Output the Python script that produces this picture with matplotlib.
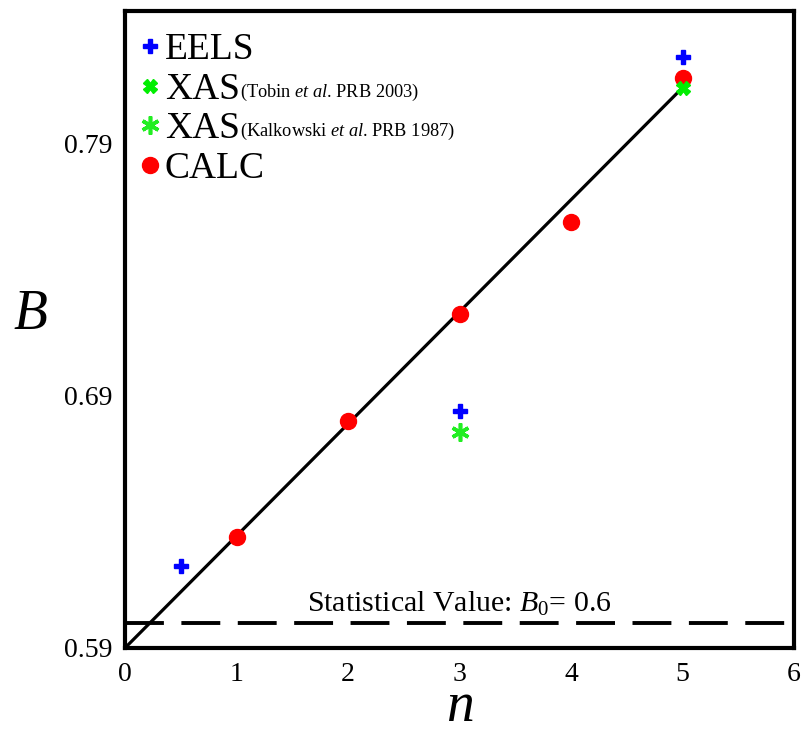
import matplotlib
matplotlib.use("Agg")
import matplotlib.pyplot as plt

plt.rcParams['font.family'] = ['Liberation Serif', 'DejaVu Serif']
plt.rcParams['mathtext.fontset'] = 'custom'
plt.rcParams['mathtext.rm'] = 'Liberation Serif'
plt.rcParams['mathtext.it'] = 'Liberation Serif:italic'
plt.rcParams['mathtext.bf'] = 'Liberation Serif:bold'

# Data
eels_n = [0.5, 3, 5]
eels_B = [0.6225, 0.684, 0.824]
xas_tobin_n = [5]
xas_tobin_B = [0.812]
xas_kalk_n = [3]
xas_kalk_B = [0.6757]
calc_n = [1, 2, 3, 4, 5]
calc_B = [0.634, 0.680, 0.7225, 0.7587, 0.8158]
fit_n = [0, 5]
fit_B = [0.59, 0.812]
B0 = 0.6

xticks = [0, 1, 2, 3, 4, 5, 6]
yticks = [0.59, 0.69, 0.79]

fig = plt.figure(figsize=(8.08, 7.32), dpi=100)
ax = fig.add_axes([0.1547, 0.1148, 0.828, 0.8702])

ax.plot(fit_n, fit_B, color='black', lw=2.3, zorder=2)
ax.axhline(B0, color='black', lw=2.8, dashes=(10, 4.5), zorder=2)

h_eels, = ax.plot(eels_n, eels_B, ls='none', marker='P', ms=10, color='#0000ff',
                  mec='#0000ff', zorder=4)
h_tobin, = ax.plot(xas_tobin_n, xas_tobin_B, ls='none', marker='X', ms=10,
                   color='#00ee00', mec='#00ee00', zorder=5)
h_kalk, = ax.plot(xas_kalk_n, xas_kalk_B, ls='none', marker=(6, 2, 0), ms=13,
                  mew=2.6, color='#22ee22', mec='#22ee22', zorder=4)
h_calc, = ax.plot(calc_n, calc_B, ls='none', marker='o', ms=11.5, color='#ff0000',
                  mec='#ff0000', zorder=3)

ax.text(3, 0.6043, 'Statistical Value: $B_0$= 0.6', ha='center', va='baseline',
        fontsize=21.5)

ax.set_xlim(0, 6)
ax.set_ylim(0.59, 0.8424)
ax.set_xticks(xticks)
ax.set_xticklabels([str(t) for t in xticks])
ax.set_yticks(yticks)
ax.set_yticklabels([f'{t:.2f}' for t in yticks])
ax.tick_params(length=0, labelsize=20)
ax.tick_params(axis='y', pad=9)
ax.tick_params(axis='x', pad=10)
for s in ax.spines.values():
    s.set_linewidth(3)

ax.set_xlabel('$n$', fontsize=40, labelpad=-4)
ax.set_ylabel('$B$', fontsize=40, rotation=0, va='center', ha='center')
ax.yaxis.set_label_coords(-0.142, 0.522)

leg = ax.legend([h_eels, h_tobin, h_kalk, h_calc], ['EELS', 'XAS', 'XAS', 'CALC'],
                loc='upper left', frameon=False, fontsize=27, handlelength=0.6,
                handletextpad=0.08, labelspacing=0.14, borderaxespad=0.0,
                bbox_to_anchor=(0.01, 0.978), borderpad=0.2)

fig.canvas.draw()
texts = leg.get_texts()
ax.annotate('(Tobin $\\it{et\\ al}$. PRB 2003)', xy=(1, 0.12), xycoords=texts[1],
            ha='left', va='bottom', fontsize=13.2)
ax.annotate('(Kalkowski $\\it{et\\ al}$. PRB 1987)', xy=(1, 0.12), xycoords=texts[2],
            ha='left', va='bottom', fontsize=13.2)

fig.savefig('out.png', dpi=100)
